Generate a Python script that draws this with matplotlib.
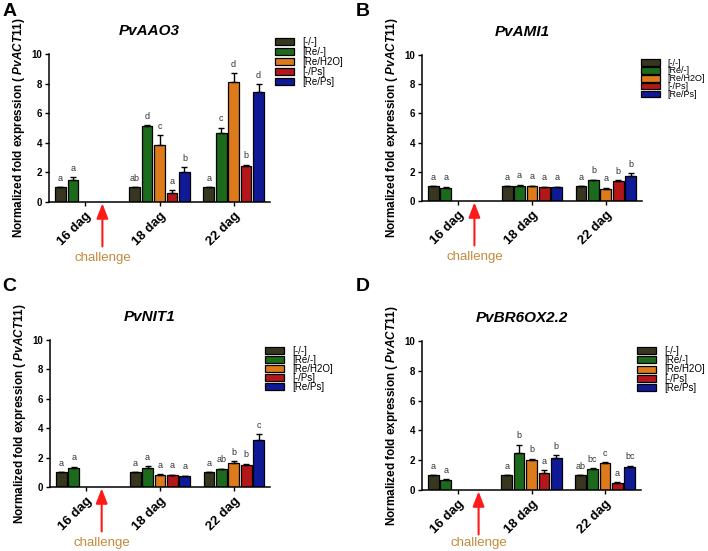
import numpy as np
import matplotlib
matplotlib.use("Agg")
import matplotlib.pyplot as plt

plt.rcParams['font.family'] = ['Liberation Sans', 'DejaVu Sans']
plt.rcParams['mathtext.fontset'] = 'custom'
plt.rcParams['mathtext.it'] = 'Liberation Sans:italic:bold'
plt.rcParams['mathtext.rm'] = 'Liberation Sans:bold'

# data
days = ["16 dag", "18 dag", "22 dag"]
treatments = ["[-/-]", "[Re/-]", "[Re/H2O]", "[-/Ps]", "[Re/Ps]"]
colors = ["#38361f", "#1c6a1c", "#dc7a1c", "#b3171a", "#111a96"]
genes = ["PvAAO3", "PvAMI1", "PvNIT1", "PvBR6OX2.2"]
panel_letters = ["A", "B", "C", "D"]

# values per gene: rows = treatments, cols = days (nan = not measured)
aao3_mean = [[1.0, 1.0, 1.0], [1.52, 5.12, 4.64], [np.nan, 3.88, 8.12], [np.nan, 0.62, 2.46], [np.nan, 2.01, 7.4]]
aao3_err = [[0, 0, 0], [0.17, 0.05, 0.38], [np.nan, 0.63, 0.6], [np.nan, 0.17, 0.06], [np.nan, 0.35, 0.55]]
aao3_sig = [["a", "ab", "a"], ["a", "d", "c"], ["", "c", "d"], ["", "a", "b"], ["", "b", "d"]]

ami1_mean = [[1.0, 1.0, 1.0], [0.9, 1.0, 1.42], [np.nan, 1.0, 0.8], [np.nan, 0.96, 1.37], [np.nan, 0.95, 1.69]]
ami1_err = [[0, 0, 0], [0.07, 0.13, 0.03], [np.nan, 0.05, 0.1], [np.nan, 0.03, 0.06], [np.nan, 0.03, 0.22]]
ami1_sig = [["a", "a", "a"], ["a", "a", "b"], ["", "a", "a"], ["", "a", "b"], ["", "a", "b"]]

nit1_mean = [[1.0, 1.0, 1.0], [1.32, 1.27, 1.2], [np.nan, 0.85, 1.62], [np.nan, 0.83, 1.52], [np.nan, 0.75, 3.17]]
nit1_err = [[0, 0, 0], [0.07, 0.14, 0.05], [np.nan, 0.03, 0.12], [np.nan, 0.02, 0.06], [np.nan, 0.03, 0.42]]
nit1_sig = [["a", "a", "a"], ["a", "a", "ab"], ["", "a", "b"], ["", "a", "b"], ["", "a", "c"]]

br6_mean = [[1.0, 1.0, 1.0], [0.7, 2.48, 1.41], [np.nan, 1.99, 1.84], [np.nan, 1.13, 0.47], [np.nan, 2.17, 1.57]]
br6_err = [[0, 0, 0], [0.04, 0.55, 0.06], [np.nan, 0.1, 0.04], [np.nan, 0.19, 0.04], [np.nan, 0.18, 0.07]]
br6_sig = [["a", "a", "ab"], ["a", "b", "bc"], ["", "b", "c"], ["", "a", "a"], ["", "b", "bc"]]

means = [aao3_mean, ami1_mean, nit1_mean, br6_mean]
errs = [aao3_err, ami1_err, nit1_err, br6_err]
sigs = [aao3_sig, ami1_sig, nit1_sig, br6_sig]

W, H = 708, 551
# axes boxes in pixels: left, right, top, bottom
axes_px = [(49, 270, 54, 202), (422, 642, 55, 201), (50, 270, 340, 487), (422, 641, 341, 490)]
legend_px = [(270, 32), (636, 54), (260, 341), (632, 341)]
legend_size = [7, 6.5, 7, 7]
legend_spacing = [0.0, -0.12, -0.1, -0.07]
arrow_x = [0.23, 0.22, 0.21, 0.28]
challenge_off = [40, 40, 40, 38]

fig = plt.figure(figsize=(W / 100, H / 100), dpi=100)

slot = 0.168
x = np.arange(len(days))

for p in range(4):
    l, r, t, b = axes_px[p]
    ax = fig.add_axes([l / W, 1 - b / H, (r - l) / W, (b - t) / H])
    for i, tr in enumerate(treatments):
        m = np.array(means[p][i], dtype=float)
        e = np.array(errs[p][i], dtype=float)
        xs = x + (i - 2) * slot
        ok = ~np.isnan(m)
        ax.bar(xs[ok], m[ok], width=slot * 0.86, color=colors[i],
               edgecolor="black", linewidth=0.9, label=tr, zorder=2)
        ax.errorbar(xs[ok], m[ok], yerr=[np.zeros(ok.sum()), e[ok]], fmt="none",
                    ecolor="black", elinewidth=1.0, capsize=2.5, capthick=1.0, zorder=3)
        for j in range(len(days)):
            if ok[j]:
                ax.text(xs[j], m[j] + e[j] + 0.3, sigs[p][i][j], ha="center",
                        va="bottom", fontsize=6.5, color="#333333")

    ax.set_xlim(-0.49, 2.49)
    ax.set_ylim(0, 10)
    ax.set_yticks(np.arange(0, 11, 2))
    ax.set_xticks(x)
    ax.set_xticklabels(days, rotation=45, ha="right", rotation_mode="anchor",
                       fontsize=9.5, fontweight="bold")
    for lab in ax.get_yticklabels():
        lab.set_fontweight("bold")
        lab.set_fontsize(7)
    ax.tick_params(axis="y", direction="out", length=3, width=1, pad=2)
    ax.tick_params(axis="x", direction="out", length=3, width=1, pad=3)
    ax.spines["top"].set_visible(False)
    ax.spines["right"].set_visible(False)
    ax.spines["left"].set_linewidth(1.1)
    ax.spines["bottom"].set_linewidth(1.1)
    ax.set_ylabel(r"Normalized fold expression ( $PvACT11$)", fontsize=8.5,
                  fontweight="bold", labelpad=3)
    ax.set_title(genes[p], fontsize=11, fontweight="bold", style="italic", pad=14, x=0.455)

    lx, ly = legend_px[p]
    ax.legend(loc="upper left", bbox_to_anchor=(lx / W, 1 - ly / H),
              bbox_transform=fig.transFigure, frameon=False,
              fontsize=legend_size[p], handlelength=2.0 * 7 / legend_size[p],
              handleheight=0.7 * 7 / legend_size[p],
              labelspacing=legend_spacing[p], handletextpad=0.8, borderpad=0)

    # challenge arrow
    ax.annotate("", xy=(arrow_x[p], 0), xycoords=("data", "axes fraction"),
                xytext=(0, -32), textcoords="offset points",
                arrowprops=dict(arrowstyle="-|>,head_width=0.35,head_length=0.9",
                                color="#ff1a1a", lw=1.5, shrinkA=0, shrinkB=1))
    ax.annotate("challenge", xy=(arrow_x[p], 0), xycoords=("data", "axes fraction"),
                xytext=(0, -challenge_off[p]), textcoords="offset points",
                ha="center", va="center", fontsize=9.5, color="#c48a3c")

    # panel letter
    px = 0.003 if p % 2 == 0 else 0.503
    py = 0.995 if p < 2 else 0.495
    fig.text(px, py, panel_letters[p], fontsize=14, fontweight="bold",
             ha="left", va="top")

fig.savefig("out.png", dpi=100)
